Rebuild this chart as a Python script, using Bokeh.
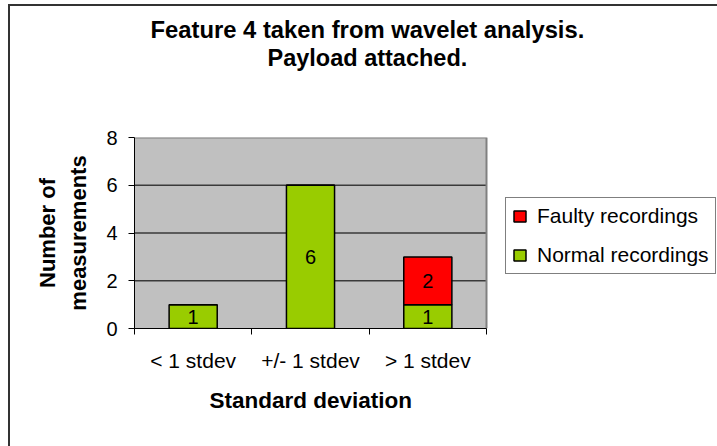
from bokeh.plotting import figure
from bokeh.models import (ColumnDataSource, Range1d, LinearAxis, FixedTicker,
                          Title, Legend, LegendItem)
from bokeh.core.properties import value
from bokeh.embed import file_html
from bokeh.resources import INLINE

# ---- data ----
categories = ["< 1 stdev", "+/- 1 stdev", "> 1 stdev"]
normal = [1, 6, 1]
faulty = [0, 0, 2]
y_ticks = [0, 2, 4, 6, 8]
series_names = ["Normal recordings", "Faulty recordings"]
series_colors = ["#99CC00", "#FF0000"]
title_lines = ["Feature 4 taken from wavelet analysis.", "Payload attached."]
x_title = "Standard deviation"
y_title_lines = ["Number of", "measurements"]

FONT = "Liberation Sans"

# ---- layout (pixels) ----
W, H = 717, 446
LEFT, TOP, BOTTOM = 134, 137, 118
PLOT_W = 352                      # width of the grey plot area
FRAME_W = W - LEFT                # frame reaches the right edge (room for legend)

n_cat = len(categories)
x_pos = [i + 0.5 for i in range(n_cat)]
src = ColumnDataSource(dict(x=x_pos, normal=normal, faulty=faulty))

# value labels at the middle of each non-empty segment
lx, ly, lt = [], [], []
for xi, n, f in zip(x_pos, normal, faulty):
    if n > 0:
        lx.append(xi); ly.append(n / 2); lt.append(str(n))
    if f > 0:
        lx.append(xi); ly.append(n + f / 2); lt.append(str(f))
lsrc = ColumnDataSource(dict(x=lx, y=ly, t=lt))

y_max = max(y_ticks)
p = figure(width=W, height=H, output_backend="svg", toolbar_location=None,
           x_range=Range1d(0, n_cat * FRAME_W / PLOT_W), y_range=Range1d(0, y_max),
           min_border_left=LEFT, min_border_right=0, min_border_top=TOP,
           min_border_bottom=BOTTOM, title=title_lines[0])

p.background_fill_color = None
p.border_fill_color = None
p.outline_line_color = None
p.styles = {"box-shadow": "inset 8px 4px 0 0 #ffffff, inset 10px 6px 0 0 #333333"}

# titles: spacer nearest the frame, then line 2, then line 1 (p.title, outermost)
spacer = Title(text=" ", text_font_size="1px", standoff=64)
p.add_layout(spacer, "above")
t2 = Title(text=title_lines[1], align="left", offset=133, text_font=FONT,
           text_font_size="23.5px", text_font_style="bold", text_color="black", standoff=0)
p.add_layout(t2, "above")
p.title.align = "left"
p.title.offset = 16
p.title.text_font = FONT
p.title.text_font_size = "23.8px"
p.title.text_font_style = "bold"
p.title.text_color = "black"
p.title.standoff = 0

p.xgrid.visible = False
p.ygrid.visible = False

# grey plot area, its border and gridlines (in data units)
p.quad(left=[0], right=[n_cat], bottom=[0], top=[y_max], fill_color="#C0C0C0",
       line_color=None)
grid_y = y_ticks[1:-1]
p.segment(x0=[0] * len(grid_y), x1=[n_cat] * len(grid_y), y0=grid_y, y1=grid_y,
          line_color="#3a3a3a", line_width=1.4)
p.line(x=[0, n_cat, n_cat], y=[y_max, y_max, 0], line_color="#808080", line_width=2)

# bars
rs = p.vbar_stack(["normal", "faulty"], x="x", width=0.41, source=src,
                  fill_color=series_colors, line_color="black", line_width=1.5)

p.text(x="x", y="y", text="t", source=lsrc, text_align="center", text_baseline="middle",
       text_font=value(FONT), text_font_size="20px", text_color="black")

# x axis
xa = p.xaxis[0]
xa.bounds = (0, n_cat)
xa.ticker = FixedTicker(ticks=x_pos, minor_ticks=list(range(n_cat + 1)))
xa.major_label_overrides = {xi: c for xi, c in zip(x_pos, categories)}
xa.major_tick_line_color = None
xa.major_tick_out = 6
xa.minor_tick_out = 6
xa.minor_tick_in = 0
xa.minor_tick_line_color = "black"
xa.axis_line_color = "black"
xa.major_label_standoff = 14
xa.major_label_text_font = FONT
xa.major_label_text_font_size = "21px"
xa.major_label_text_color = "black"

# x-axis title, centred under the grey plot area
xt = Title(text=x_title, align="left", offset=75, text_font=FONT,
           text_font_size="22.5px", text_font_style="bold", text_color="black",
           standoff=22)
p.add_layout(xt, "below")

# y axis
ya = p.yaxis[0]
ya.ticker = FixedTicker(ticks=y_ticks, minor_ticks=[])
ya.major_tick_out = 6
ya.major_tick_in = 0
ya.major_tick_line_color = "black"
ya.axis_line_color = "black"
ya.major_label_standoff = 11
ya.major_label_text_font = FONT
ya.major_label_text_font_size = "20px"
ya.major_label_text_color = "black"
ya.axis_label = y_title_lines[1]
ya.axis_label_text_font = FONT
ya.axis_label_text_font_size = "22px"
ya.axis_label_text_font_style = "bold"
ya.axis_label_text_color = "black"
ya.axis_label_standoff = 12

ya2 = LinearAxis(ticker=FixedTicker(ticks=[], minor_ticks=[]), axis_label=y_title_lines[0],
                 axis_line_color=None, major_tick_line_color=None, minor_tick_line_color=None,
                 major_label_text_font_size="0px", axis_label_standoff=4,
                 axis_label_text_font=FONT, axis_label_text_font_size="22px",
                 axis_label_text_font_style="bold", axis_label_text_color="black")
p.add_layout(ya2, "left")

# legend (Faulty first), to the right of the grey area
legend = Legend(items=[LegendItem(label=series_names[1], renderers=[rs[1]]),
                       LegendItem(label=series_names[0], renderers=[rs[0]])],
                location=(371, 54), margin=0, padding=6, spacing=15,
                glyph_width=15, glyph_height=14, label_standoff=10, label_height=22,
                label_text_font=FONT, label_text_font_size="21px", label_text_color="black",
                border_line_color="black", border_line_width=1,
                background_fill_color="white", background_fill_alpha=1)
p.add_layout(legend)

open("out.html", "w").write(file_html(p, INLINE))
